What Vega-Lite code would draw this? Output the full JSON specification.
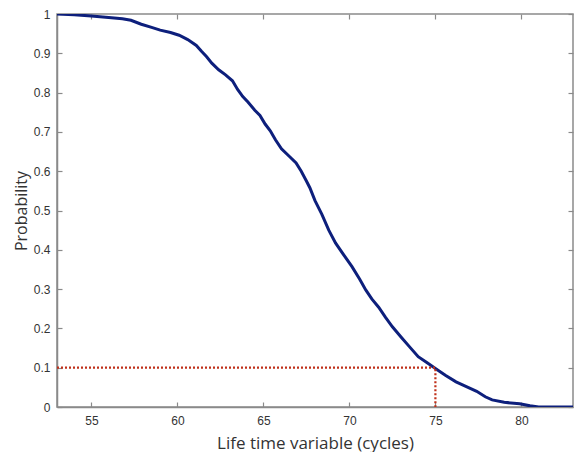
{
  "$schema": "https://vega.github.io/schema/vega-lite/v6.json",
  "width": 516,
  "height": 393,
  "autosize": {"type": "none"},
  "padding": {"left": 57, "top": 14, "right": 2, "bottom": 45},
  "background": "white",
  "config": {
    "view": {"stroke": "#8a8a8a", "strokeWidth": 1.5},
    "axis": {
      "domainColor": "#8a8a8a",
      "domainWidth": 1.5,
      "tickColor": "#8a8a8a",
      "tickWidth": 1.2,
      "tickSize": -5,
      "grid": false,
      "labelFont": "Liberation Sans",
      "labelFontSize": 12,
      "labelColor": "#333333",
      "titleFont": "Open Sans",
      "titleFontWeight": "normal",
      "titleColor": "#333333"
    }
  },
  "datasets": {
    "curve": [
      {"cycles": 53.0, "p": 1.0},
      {"cycles": 54.0, "p": 0.998},
      {"cycles": 55.0, "p": 0.995},
      {"cycles": 56.0, "p": 0.991},
      {"cycles": 56.8, "p": 0.988},
      {"cycles": 57.3, "p": 0.984},
      {"cycles": 57.9, "p": 0.974},
      {"cycles": 58.5, "p": 0.966},
      {"cycles": 59.0, "p": 0.959},
      {"cycles": 59.6, "p": 0.953},
      {"cycles": 60.1, "p": 0.946},
      {"cycles": 60.6, "p": 0.935},
      {"cycles": 61.1, "p": 0.92},
      {"cycles": 61.4, "p": 0.905},
      {"cycles": 61.7, "p": 0.891},
      {"cycles": 62.0, "p": 0.875},
      {"cycles": 62.4, "p": 0.858},
      {"cycles": 62.8, "p": 0.845},
      {"cycles": 63.2, "p": 0.83},
      {"cycles": 63.5, "p": 0.808},
      {"cycles": 63.8, "p": 0.79},
      {"cycles": 64.1, "p": 0.776},
      {"cycles": 64.5, "p": 0.755},
      {"cycles": 64.8, "p": 0.742},
      {"cycles": 65.1, "p": 0.72},
      {"cycles": 65.4, "p": 0.703},
      {"cycles": 65.7, "p": 0.68},
      {"cycles": 66.05, "p": 0.657},
      {"cycles": 66.5, "p": 0.638},
      {"cycles": 66.9, "p": 0.621},
      {"cycles": 67.2, "p": 0.6},
      {"cycles": 67.5, "p": 0.575},
      {"cycles": 67.7, "p": 0.558},
      {"cycles": 68.0, "p": 0.525},
      {"cycles": 68.4, "p": 0.49},
      {"cycles": 68.8, "p": 0.45},
      {"cycles": 69.2, "p": 0.417},
      {"cycles": 69.7, "p": 0.385},
      {"cycles": 70.15, "p": 0.357},
      {"cycles": 70.6, "p": 0.325},
      {"cycles": 70.95, "p": 0.298},
      {"cycles": 71.3, "p": 0.275},
      {"cycles": 71.7, "p": 0.254},
      {"cycles": 72.1, "p": 0.228},
      {"cycles": 72.5, "p": 0.204},
      {"cycles": 73.0, "p": 0.178},
      {"cycles": 73.5, "p": 0.153},
      {"cycles": 74.0, "p": 0.128},
      {"cycles": 74.5, "p": 0.113},
      {"cycles": 75.0, "p": 0.098},
      {"cycles": 75.6, "p": 0.08},
      {"cycles": 76.2, "p": 0.064},
      {"cycles": 76.8, "p": 0.052},
      {"cycles": 77.4, "p": 0.04},
      {"cycles": 77.9, "p": 0.026},
      {"cycles": 78.3, "p": 0.018},
      {"cycles": 79.0, "p": 0.012},
      {"cycles": 79.9, "p": 0.008},
      {"cycles": 80.5, "p": 0.003},
      {"cycles": 81.0, "p": 0.0},
      {"cycles": 83.0, "p": 0.0}
    ],
    "marker": [
      {"cycles": 53.0, "p": 0.1, "o": 1},
      {"cycles": 75.0, "p": 0.1, "o": 2},
      {"cycles": 75.0, "p": 0.0, "o": 3}
    ]
  },
  "resolve": {"axis": {"x": "independent", "y": "independent"}},
  "layer": [
    {
      "data": {"name": "curve"},
      "mark": {"type": "line", "color": "#0d1f7c", "strokeWidth": 3, "clip": true},
      "encoding": {
        "x": {
          "field": "cycles", "type": "quantitative",
          "scale": {"domain": [53, 83], "nice": false, "zero": false},
          "axis": {
            "orient": "bottom",
            "values": [55, 60, 65, 70, 75, 80],
            "title": "Life  time  variable (cycles)",
            "titleFontSize": 17,
            "titleBaseline": "alphabetic",
            "titleY": 41,
            "labelPadding": 13
          }
        },
        "y": {
          "field": "p", "type": "quantitative",
          "scale": {"domain": [0, 1], "nice": false},
          "axis": {
            "orient": "left",
            "values": [0, 0.1, 0.2, 0.3, 0.4, 0.5, 0.6, 0.7, 0.8, 0.9, 1],
            "format": ".1~f",
            "title": "Probability",
            "titleFontSize": 16,
            "titlePadding": 4,
            "labelPadding": 12
          }
        }
      }
    },
    {
      "data": {"name": "marker"},
      "mark": {"type": "line", "color": "#c0301a", "strokeWidth": 2.2, "strokeDash": [2, 2], "clip": true},
      "encoding": {
        "x": {
          "field": "cycles", "type": "quantitative",
          "scale": {"domain": [53, 83], "nice": false, "zero": false},
          "axis": {"orient": "top", "values": [55, 60, 65, 70, 75, 80], "labels": false, "title": null, "domain": false}
        },
        "y": {
          "field": "p", "type": "quantitative",
          "scale": {"domain": [0, 1], "nice": false},
          "axis": {"orient": "right", "values": [0, 0.1, 0.2, 0.3, 0.4, 0.5, 0.6, 0.7, 0.8, 0.9, 1], "labels": false, "title": null, "domain": false}
        },
        "order": {"field": "o"}
      }
    }
  ]
}
